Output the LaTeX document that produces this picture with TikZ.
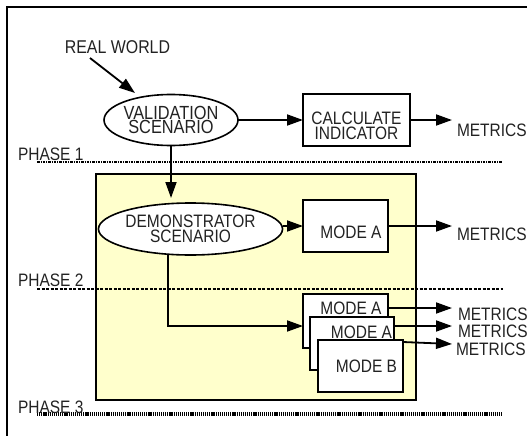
\documentclass[tikz,border=0pt]{standalone}
\usepackage{fontspec}
\setmainfont[FakeStretch=0.86]{Liberation Sans}
\usetikzlibrary{arrows.meta,shapes.geometric,calc}
\definecolor{paleyellow}{HTML}{FFFFCC}
\definecolor{inkgrey}{HTML}{222222}

\begin{document}
\begin{tikzpicture}[x=1pt,y=-1pt,
  every node/.style={font=\fontsize{18}{15.5}\selectfont, inner sep=0pt, outer sep=0pt, text=inkgrey},
  frame/.style={line width=2pt},
  boxnode/.style={draw, rectangle, line width=2pt, fill=white},
  oval/.style={draw, ellipse, line width=1.6pt, fill=white, align=center},
  stage/.style={draw, rectangle, line width=2pt, fill=paleyellow},
  lbl/.style={align=center},
  tag/.style={anchor=west},
  arr/.style={line width=1.8pt, -{Triangle[length=16pt,width=11pt]}},
  phaseone/.style={line width=2.8pt, dash pattern=on 2.5pt off 1pt on 1pt off 1pt},
  phasetwo/.style={line width=1.4pt, dash pattern=on 3pt off 1.5pt},
  phasethree/.style={line width=3.2pt, dash pattern=on 1.2pt off 0.9pt}
]
\useasboundingbox (0,0) rectangle (527,436);

% outer frame (open on the right and bottom)
\coordinate (fa) at (7,440);
\coordinate (fb) at (7,7);
\coordinate (fc) at (530,7);
\draw[frame] (fa) -- (fb) -- (fc);

% shaded region for phases 2 and 3
\node[stage, minimum width=320, minimum height=226] (area) at (256,287) {};

% phase separators
\coordinate (p1a) at (37,162);  \coordinate (p1b) at (502,162);
\coordinate (p2a) at (37,289);  \coordinate (p2b) at (503,289);
\coordinate (p3a) at (37,414);  \coordinate (p3b) at (503,414);
\draw[phaseone] (p1a) -- (p1b);
\draw[phasetwo] (p2a) -- (p2b);
\draw[phasethree] (p3a) -- (p3b);
\node[tag] (ph1) at (18,154) {PHASE 1};
\node[tag] (ph2) at (18,280.5) {PHASE 2};
\node[tag] (ph3) at (18,407) {PHASE 3};

% phase 1
\node[font=\fontsize{18.5}{15.5}\selectfont] (rw) at (117.5,47.5) {REAL WORLD};
\coordinate (rwtail) at (90,58);
\coordinate (rwtip) at (135,93);
\node[oval, minimum width=120, minimum height=51,
      font=\fontsize{19}{14}\selectfont] (val) at (171,120) {VALIDATION\\SCENARIO};
\node[boxnode, minimum width=107, minimum height=52] (calc) at (356.5,120) {};
\node[lbl, font=\fontsize{18}{15.5}\selectfont] (calcL) at (356.5,126) {CALCULATE\\INDICATOR};
\coordinate (t1) at (452,120);
\node[tag] (met1) at (457,130) {METRICS};

\draw[arr] (rwtail) -- (rwtip);
\draw[arr] (val.east) -- (calc.west);
\draw[arr] (calc.east) -- (t1);

% phase 2
\node[oval, minimum width=159, minimum height=52,
      font=\fontsize{18}{15.5}\selectfont] (demo) at (190.5,229) {DEMONSTRATOR\\SCENARIO};
\node[boxnode, minimum width=85, minimum height=52] (modeA) at (345.5,226) {};
\node[lbl] (modeAL) at (351,232) {MODE A};
\coordinate (t2) at (452,226);
\node[tag] (met2) at (457,234) {METRICS};

\draw[arr, shorten >=5pt] (val.south) -- (val.south |- demo.north);
\draw[arr] (demo.east |- modeA.west) -- (modeA.west);
\draw[arr] (modeA.east) -- (t2);

% phase 3: stacked modes
\node[boxnode, minimum width=85, minimum height=54] (b1) at (345.5,321) {};
\node[lbl] (l1) at (351,308) {MODE A};
\node[boxnode, minimum width=84, minimum height=53] (b2) at (352,343.5) {};
\node[lbl] (l2) at (361.5,332) {MODE A};
\node[boxnode, minimum width=85, minimum height=52] (b3) at (360.5,366) {};
\node[lbl] (l3) at (366.5,366) {MODE B};

\coordinate (t3) at (452,308);
\coordinate (t4) at (452,326);
\coordinate (t5) at (452,344);
\node[tag] (met3) at (458,314) {METRICS};
\node[tag] (met4) at (458,331) {METRICS};
\node[tag] (met5) at (456,349) {METRICS};

\draw[arr] (b1.east |- t3) -- (t3);
\draw[arr] (b2.east |- t4) -- (t4);
\draw[arr] ([yshift=24pt]b3.east) -- (t5);

\coordinate (bend) at (168,326);
\draw[arr] (demo.south -| bend) -- (bend) -- ([yshift=-5pt]b1.west);
\end{tikzpicture}
\end{document}
